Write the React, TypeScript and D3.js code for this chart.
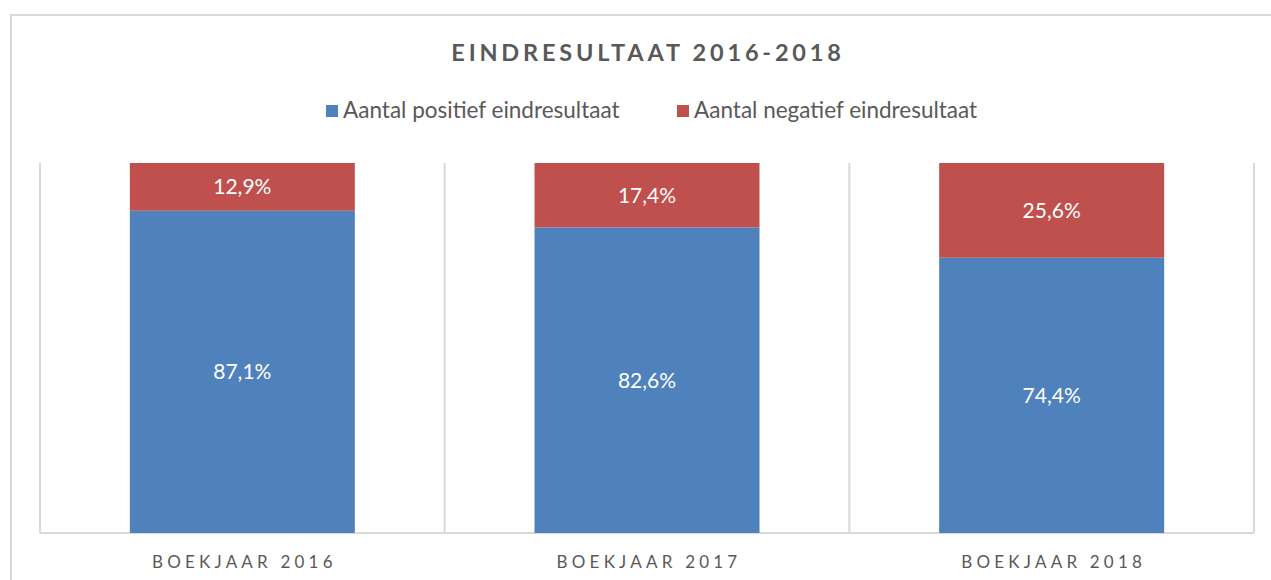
import React from 'react';
import * as d3 from 'd3';

const categories = ['BOEKJAAR 2016', 'BOEKJAAR 2017', 'BOEKJAAR 2018'];
const positief = [87.1, 82.6, 74.4];
const negatief = [12.9, 17.4, 25.6];
const seriesNames = ['Aantal positief eindresultaat', 'Aantal negatief eindresultaat'];
const seriesColors = ['#4f81bd', '#c0504d'];

const W = 1271, H = 580;
const margin = { top: 163, right: 17, bottom: 47, left: 40 };
const font = 'Lato, "Open Sans", sans-serif';

const fmt = (v: number) => v.toFixed(1).replace('.', ',') + '%';

export default function App() {
  const x = d3.scaleBand().domain(categories).range([margin.left, W - margin.right]).paddingInner(0).paddingOuter(0);
  const y = d3.scaleLinear().domain([0, 100]).range([H - margin.bottom, margin.top]);
  const bw = x.bandwidth() * 0.556;

  const stacked = categories.map((c, i) => {
    const p = positief[i], n = negatief[i];
    return [
      { key: 0, y0: 0, y1: p, v: p },
      { key: 1, y0: p, y1: p + n, v: n },
    ];
  });

  const bounds = [...categories.map(c => x(c)!), x(categories[categories.length - 1])! + x.bandwidth()];

  return (
    <svg width={W} height={H} style={{ position: 'absolute', left: 0, top: 0, background: '#fff' }}>
      <rect x={11} y={15} width={W + 20} height={H} fill="#fff" stroke="#d9d9d9" strokeWidth={2} />
      {bounds.map((b, i) => (
        <line key={i} x1={b} x2={b} y1={y(100)} y2={y(0)} stroke="#d9d9d9" strokeWidth={2} />
      ))}
      <line x1={margin.left} x2={W - margin.right} y1={y(0)} y2={y(0)} stroke="#d9d9d9" strokeWidth={2} />
      {categories.map((c, i) => {
        const cx = x(c)! + x.bandwidth() / 2;
        return (
          <g key={c}>
            {stacked[i].map(s => (
              <g key={s.key}>
                <rect x={cx - bw / 2} y={y(s.y1)} width={bw} height={y(s.y0) - y(s.y1)} fill={seriesColors[s.key]} />
                <text x={cx} y={(y(s.y0) + y(s.y1)) / 2} dy="0.35em" textAnchor="middle" fill="#fff"
                  fontFamily={font} fontSize={21}>{fmt(s.v)}</text>
              </g>
            ))}
            <text x={cx + 2} y={568} textAnchor="middle" fill="#595959" fontFamily={font} fontSize={17}
              letterSpacing={4.2}>{c}</text>
          </g>
        );
      })}
      <text x={648} y={61} textAnchor="middle" fill="#595959" fontFamily={font} fontSize={23.5} fontWeight="bold"
        letterSpacing={3.8}>EINDRESULTAAT 2016-2018</text>
      <g>
        <rect x={326} y={105} width={12} height={12} fill={seriesColors[0]} />
        <text x={343} y={118} fill="#595959" fontFamily={font} fontSize={22.5}>{seriesNames[0]}</text>
        <rect x={677} y={105} width={12} height={12} fill={seriesColors[1]} />
        <text x={694} y={118} fill="#595959" fontFamily={font} fontSize={22.5}>{seriesNames[1]}</text>
      </g>
    </svg>
  );
}
